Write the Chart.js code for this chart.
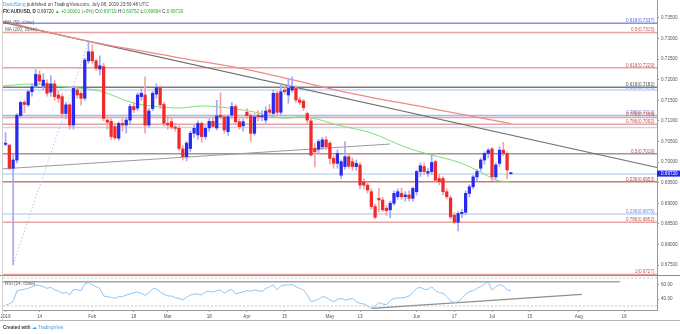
<!DOCTYPE html>
<html><head><meta charset="utf-8">
<script src="https://cdn.jsdelivr.net/npm/chart.js@4.4.1/dist/chart.umd.min.js"></script>
<style>
html,body{margin:0;padding:0;background:#fff;}
#wrap{position:relative;width:680px;height:334px;overflow:hidden;font-family:"Liberation Sans",Arial,sans-serif;}
canvas{position:absolute;left:0;}
#c1{top:0;}
#c2{top:276px;}
.t{position:absolute;white-space:nowrap;font-size:4.6px;line-height:5px;color:#444;}
.ln{position:absolute;}
.g{color:#2eab2e;}
.b{color:#4a9be0;}
</style></head><body>
<div id="wrap">
<canvas id="c1" width="680" height="276"></canvas>
<canvas id="c2" width="680" height="46"></canvas>
<div class="ln" style="left:0;top:275px;width:680px;height:1px;background:#8a8a8a"></div>
<div class="ln" style="left:2px;top:0;width:1px;height:320px;background:#cfcfcf"></div>
<div class="ln" style="left:0;top:320px;width:680px;height:1px;background:#b5b5b5"></div>
<div class="t" style="left:3px;top:1.5px"><span class="b">DavidSong</span> published on TradingView.com, July 08, 2019 23:59:48 UTC</div>
<div class="t" style="left:3px;top:8.5px;color:#333"><b>FX:AUDUSD, D</b> 0.69720 <span class="g">▲ +0.00001 (+0%)</span> O:<span class="g">0.69719</span> H:<span class="g">0.69752</span> L:<span class="g">0.69694</span> C:<span class="g">0.69720</span></div>
<div class="t" style="left:5px;top:20px;color:#666">MA (50, close)</div>
<div class="t" style="left:5px;top:26.5px;color:#666">MA (200, close)</div>
<div class="t" style="left:5px;top:281px;color:#666">RSI (14, close)</div>
<div class="t" style="left:3px;top:324.5px;color:#444;font-weight:bold">Created with <span class="b" style="font-weight:normal">☁ TradingView</span></div>
</div>
<script>
// ---- axis ranges (candle index: 0 = Dec 31 2018, 1 = Jan 1 2019, ...) ----
const xMin = 0.32, xMax = 173.75;
const yMin = 0.672328, yMax = 0.739372;
const rsiMin = 24.286, rsiMax = 72.857;
const priceTicks = [0.675,0.68,0.685,0.69,0.695,0.70,0.705,0.71,0.715,0.72,0.725,0.73,0.735];
const rsiTicks = [40, 60];
const xTickIdx = [1,10,24,35,44,55,65,75,87,95,110,120,130,140,153,165];
const xTickLabels = ['2019','14','Feb','18','Mar','18','Apr','15','May','13','Jun','17','Jul','15','Aug','19'];

// ---- daily candles, Jan 1 2019 .. Jul 8 2019 ----
const firstIdx = 1;
const opens = [0.7043,0.7041,0.6985,0.7005,0.7113,0.7145,0.7139,0.7171,0.7185,0.7212,0.7185,0.7191,0.7170,0.7190,0.7163,0.7159,0.7118,0.7139,0.7090,0.7175,0.7167,0.7155,0.7246,0.7268,0.7246,0.7226,0.7232,0.7102,0.7099,0.7086,0.7058,0.7094,0.7090,0.7102,0.7135,0.7131,0.7159,0.7163,0.7090,0.7130,0.7165,0.7181,0.7140,0.7094,0.7098,0.7085,0.7082,0.7032,0.7013,0.7033,0.7070,0.7066,0.7094,0.7062,0.7083,0.7099,0.7083,0.7114,0.7110,0.7074,0.7114,0.7135,0.7098,0.7088,0.7121,0.7113,0.7070,0.7114,0.7110,0.7102,0.7127,0.7118,0.7167,0.7121,0.7175,0.7163,0.7175,0.7179,0.7151,0.7148,0.7118,0.7100,0.7033,0.7031,0.7037,0.7054,0.7046,0.7009,0.6997,0.6968,0.6989,0.7013,0.7001,0.6989,0.6993,0.6952,0.6944,0.6928,0.6892,0.6912,0.6908,0.6888,0.6884,0.6900,0.6916,0.6924,0.6916,0.6920,0.6912,0.6928,0.6977,0.6989,0.6973,0.6977,0.7001,0.6960,0.6960,0.6928,0.6913,0.6871,0.6854,0.6875,0.6878,0.6924,0.6940,0.6964,0.6985,0.7005,0.7021,0.7032,0.6964,0.6997,0.7029,0.7021,0.69719];
const highs = [0.7072,0.7043,0.7020,0.7118,0.7148,0.7150,0.7175,0.7190,0.7225,0.7222,0.7215,0.7200,0.7210,0.7198,0.7172,0.7165,0.7145,0.7142,0.7183,0.7182,0.7172,0.7252,0.7293,0.7285,0.7250,0.7258,0.7240,0.7110,0.7105,0.7095,0.7098,0.7105,0.7108,0.7140,0.7145,0.7168,0.7178,0.7207,0.7130,0.7172,0.7190,0.7185,0.7145,0.7112,0.7108,0.7095,0.7088,0.7040,0.7050,0.7075,0.7090,0.7100,0.7098,0.7088,0.7105,0.7110,0.7150,0.7168,0.7115,0.7115,0.7145,0.7140,0.7105,0.7105,0.7130,0.7118,0.7118,0.7125,0.7125,0.7135,0.7140,0.7175,0.7172,0.7191,0.7185,0.7203,0.7207,0.7185,0.7158,0.7152,0.7122,0.7105,0.7045,0.7055,0.7060,0.7062,0.7050,0.7015,0.7030,0.7005,0.7050,0.7020,0.7010,0.7005,0.6998,0.6960,0.6950,0.6935,0.6898,0.6936,0.6915,0.6895,0.6905,0.6930,0.6935,0.6937,0.6928,0.6930,0.6940,0.6980,0.6998,0.6998,0.6985,0.7021,0.7005,0.6970,0.6965,0.6935,0.6918,0.6877,0.6880,0.6885,0.6930,0.6945,0.6968,0.6982,0.7010,0.7025,0.7033,0.7035,0.6998,0.7037,0.7048,0.7025,0.69752];
const lows = [0.7040,0.6982,0.6750,0.6998,0.7110,0.7120,0.7135,0.7160,0.7180,0.7190,0.7175,0.7160,0.7160,0.7150,0.7145,0.7110,0.7105,0.7080,0.7080,0.7155,0.7138,0.7150,0.7240,0.7240,0.7222,0.7212,0.7100,0.7080,0.7055,0.7055,0.7053,0.7075,0.7070,0.7090,0.7120,0.7125,0.7150,0.7070,0.7085,0.7125,0.7155,0.7130,0.7088,0.7080,0.7080,0.7075,0.7028,0.7005,0.7003,0.7025,0.7060,0.7055,0.7048,0.7055,0.7075,0.7085,0.7078,0.7105,0.7070,0.7065,0.7105,0.7090,0.7080,0.7075,0.7105,0.7050,0.7065,0.7100,0.7100,0.7095,0.7115,0.7112,0.7115,0.7115,0.7165,0.7143,0.7170,0.7145,0.7140,0.7125,0.7095,0.7015,0.6988,0.7020,0.7030,0.7030,0.6995,0.6985,0.6985,0.6960,0.6982,0.6985,0.6980,0.6980,0.6935,0.6935,0.6925,0.6885,0.6862,0.6879,0.6880,0.6870,0.6865,0.6895,0.6910,0.6910,0.6905,0.6905,0.6905,0.6920,0.6965,0.6970,0.6965,0.6970,0.6950,0.6945,0.6920,0.6910,0.6862,0.6850,0.6833,0.6865,0.6872,0.6915,0.6935,0.6955,0.6978,0.6995,0.7010,0.6955,0.6958,0.6990,0.7015,0.6960,0.69694];
const closes = [0.7046,0.6985,0.7005,0.7114,0.7145,0.7140,0.7171,0.7183,0.7213,0.7197,0.7199,0.7167,0.7190,0.7159,0.7155,0.7118,0.7139,0.7090,0.7179,0.7163,0.7155,0.7248,0.7268,0.7246,0.7228,0.7234,0.7106,0.7097,0.7062,0.7059,0.7094,0.7090,0.7102,0.7135,0.7127,0.7163,0.7167,0.7090,0.7124,0.7167,0.7181,0.7139,0.7094,0.7090,0.7085,0.7082,0.7033,0.7013,0.7046,0.7070,0.7082,0.7094,0.7062,0.7082,0.7099,0.7087,0.7112,0.7110,0.7078,0.7110,0.7135,0.7098,0.7086,0.7098,0.7113,0.7070,0.7110,0.7110,0.7113,0.7124,0.7121,0.7167,0.7121,0.7171,0.7171,0.7179,0.7183,0.7151,0.7145,0.7132,0.7102,0.7017,0.7025,0.7050,0.7054,0.7037,0.7009,0.6997,0.7021,0.7001,0.7013,0.6990,0.6989,0.6997,0.6944,0.6944,0.6932,0.6892,0.6866,0.6908,0.6884,0.6882,0.6900,0.6924,0.6928,0.6916,0.6920,0.6912,0.6936,0.6977,0.6991,0.6977,0.6977,0.6999,0.6956,0.6952,0.6928,0.6916,0.6867,0.6854,0.6875,0.6878,0.6924,0.6940,0.6964,0.6977,0.7005,0.7021,0.7029,0.6964,0.6993,0.7029,0.7021,0.6981,0.69720];
const lastClose = 0.69720;

// ---- moving averages, read at sample dates ----
const ma50Idx = [0,8,17,26,35,46,53,58,67,74,81,89,98,107,114,121,127,131,135];
const ma50Val = [0.71848,0.71896,0.71823,0.71726,0.71434,0.71313,0.71362,0.71337,0.71216,0.71070,0.71094,0.70900,0.70706,0.70365,0.70171,0.70001,0.69758,0.69564,0.69515];
const ma200Idx = [0,22,46,67,91,114,135];
const ma200Val = [0.73427,0.72958,0.72552,0.72212,0.71702,0.71300,0.70936];

// ---- drawn trendlines (index, price) ----
const upperTrendIdx = [0.32, 173.75], upperTrendVal = [0.73395, 0.69868];
const lowerTrendIdx = [0.32, 102.9], lowerTrendVal = [0.69836, 0.70438];
const fibAnchorIdx = [3, 23], fibAnchorVal = [0.6750, 0.7293];

// ---- fibonacci levels ----
const fibLevels = [0.7337,0.7315,0.7229,0.7182,0.7175,0.7113,0.7108,0.7092,0.7084,0.7020,0.6971,0.6952,0.6874,0.6854,0.6727];
const fibLabels = ['0.618(0.7337)','0.5(0.7315)','0.618(0.7229)','0.618(0.7182)','0.618(0.7176)','0.786(0.7113)','0.786(0.7108)','0.786(0.7092)','','0.5(0.7019)','','0.236(0.6953)','0.236(0.6875)','0.786(0.6852)','1(0.6727)'];
const fibColors = ['#8290f0','#e8a3a3','#e8a3a3','#7a7a7a','#c3d5f5','#a9b4f3','#e8a3a3','#e8a3a3','#c3d5f5','#a8909a','#c3d5f5','#cf7777','#c3d5f5','#e8a3a3','#e8a3a3'];
const fibTextColors = ['#5a6ae0','#c05a5a','#c05a5a','#555555','#7fa0e0','#6a78e0','#c05a5a','#c05a5a','#7fa0e0','#9a5a6a','#7fa0e0','#b05050','#6a8ae0','#c05a5a','#c05a5a'];

const rsiVal = [31.4,33,36.2,51.4,52.9,53.8,55.2,57.6,60,59.5,57.6,55.2,56.7,52.9,51.4,48.1,50,45.7,53.8,52.9,51.9,61.4,63.3,60,57.6,55.2,44.3,43.3,42.4,41,43.3,43.3,45.7,47.1,49,50,48.1,45.2,49,54.3,54.8,50,47.1,44.3,44.3,41.9,41,38.6,42.4,45.7,47.1,47.1,45.7,50,51,50,51.9,52.9,48.1,51.9,53.8,47.1,49,50,51.9,51,52.9,51.9,50.5,54.8,57.6,60,52.9,58.6,60,60,60.5,57.6,55.2,52.9,45.7,36.2,37.6,39.5,43.3,42.4,38.6,36.2,39.5,41,38.6,39.5,41,36.2,33.8,32.9,30,26.7,30,34.8,32.9,31.9,37.6,41,41.4,41.4,42.4,44.3,49,55.2,56.7,53.8,53.8,57.6,51.9,49,48.1,43.3,37.6,34.8,36.2,41,47.1,50.5,51.9,55.2,57.6,61.4,63.8,52.9,57.6,60.5,58.6,52.9,51.9];
const rsiLevels = [70, 30];
const rsiFlatIdx = [0.32, 163.9], rsiFlatVal = [64.7, 64.7];
const rsiRiseIdx = [98.1, 153.8], rsiRiseVal = [26.7, 46.7];

// ---- build datasets ----
const FONT = 'Liberation Sans';
const pts = (xs, ys) => xs.map((x, i) => ({x, y: ys[i]}));
const candleX = opens.map((_, i) => firstIdx + i);
const isUp = opens.map((o, i) => closes[i] >= o);
const bodyColors = isUp.map(u => u ? '#2a2aee' : '#ee2a2a');
const wickColors = isUp.map(u => u ? '#a3aaf4' : '#f2a3a3');

const mainSets = [];
fibLevels.forEach((lv, i) => mainSets.push({
  type: 'line', data: pts([xMin, xMax], [lv, lv]), borderColor: fibColors[i],
  borderWidth: 1.5, pointRadius: 0, order: 20
}));
mainSets.push({type:'line', data: pts(upperTrendIdx, upperTrendVal), borderColor:'#6e6e6e', borderWidth:1.2, pointRadius:0, order:9});
mainSets.push({type:'line', data: pts(lowerTrendIdx, lowerTrendVal), borderColor:'#9a9a9a', borderWidth:1, pointRadius:0, order:9});
mainSets.push({type:'line', data: pts(fibAnchorIdx, fibAnchorVal), borderColor:'#a9c8f0', borderWidth:1, borderDash:[1.5,2], pointRadius:0, order:9});
mainSets.push({type:'line', data: pts(ma200Idx, ma200Val), borderColor:'#f08a8a', borderWidth:1.3, pointRadius:0, tension:0.35, order:8});
mainSets.push({type:'line', data: pts(ma50Idx, ma50Val), borderColor:'#78e078', borderWidth:1, pointRadius:0, tension:0.35, order:8});
mainSets.push({type:'bar', data: candleX.map((x, i) => ({x, y:[lows[i], highs[i]]})), backgroundColor: wickColors, barThickness: 1, grouped:false, order:3});
mainSets.push({type:'bar', data: candleX.map((x, i) => ({x, y:[opens[i], closes[i]]})), backgroundColor: bodyColors, barThickness: 2.6, minBarLength: 1, grouped:false, order:1});

const overlayPlugin = {
  id: 'overlay',
  afterDatasetsDraw(chart) {
    const {ctx, chartArea, scales:{y}} = chart;
    ctx.save();
    ctx.font = '4.6px "' + FONT + '"';
    ctx.textAlign = 'right'; ctx.textBaseline = 'alphabetic';
    fibLevels.forEach((lv, i) => {
      if (!fibLabels[i]) return;
      ctx.fillStyle = fibTextColors[i];
      ctx.fillText(fibLabels[i], chartArea.right - 2.5, y.getPixelForValue(lv) - 1.2);
    });
    const py = y.getPixelForValue(lastClose);
    ctx.fillStyle = '#2525ee';
    ctx.fillRect(chartArea.right, py - 3, 23, 6);
    ctx.fillStyle = '#ffffff'; ctx.textAlign = 'left'; ctx.textBaseline = 'middle';
    ctx.fillText(lastClose.toFixed(5), chartArea.right + 4, py + 0.3);
    ctx.restore();
  }
};

Chart.defaults.font.family = FONT;
new Chart(document.getElementById('c1'), {
  type: 'bar',
  data: {datasets: mainSets},
  options: {
    responsive: false, animation: false, events: [],
    layout: {padding: {left: 3, top: 0, right: 0, bottom: 0}},
    plugins: {legend: {display: false}, tooltip: {enabled: false}},
    scales: {
      x: {type: 'linear', min: xMin, max: xMax, display: false, offset: false},
      y: {
        type: 'linear', position: 'right', min: yMin, max: yMax,
        afterBuildTicks(s) { s.ticks = priceTicks.map(v => ({value: v})); },
        afterFit(s) { s.width = 23; s.paddingTop = 0; s.paddingBottom = 0; },
        ticks: {font: {size: 4.6, family: FONT}, color: '#555', padding: 2, callback: v => Number(v).toFixed(5)},
        grid: {drawOnChartArea: false, drawTicks: true, tickLength: 2, color: '#999'},
        border: {display: true, color: '#999', width: 1}
      }
    }
  },
  plugins: [overlayPlugin]
});

const rsiSets = [];
rsiLevels.forEach(lv => rsiSets.push({type:'line', data: pts([xMin, xMax], [lv, lv]), borderColor:'#c8c8c8', borderWidth:1, borderDash:[2,2], pointRadius:0, order:10}));
rsiSets.push({type:'line', data: pts(rsiFlatIdx, rsiFlatVal), borderColor:'#a5a5a5', borderWidth:1.5, pointRadius:0, order:5});
rsiSets.push({type:'line', data: pts(rsiRiseIdx, rsiRiseVal), borderColor:'#8f8f8f', borderWidth:1.3, pointRadius:0, order:5});
rsiSets.push({type:'line', data: rsiVal.map((v, i) => ({x: firstIdx + i, y: v})), borderColor:'#8ec5f5', borderWidth:1, pointRadius:0, order:1});

new Chart(document.getElementById('c2'), {
  type: 'line',
  data: {datasets: rsiSets},
  options: {
    responsive: false, animation: false, events: [],
    layout: {padding: {left: 3, top: 0, right: 0, bottom: 0}},
    plugins: {legend: {display: false}, tooltip: {enabled: false}},
    scales: {
      x: {
        type: 'linear', min: xMin, max: xMax, offset: false,
        afterBuildTicks(s) { s.ticks = xTickIdx.map(v => ({value: v})); },
        afterFit(s) { s.height = 12; s.paddingLeft = 0; s.paddingRight = 0; },
        ticks: {font: {size: 4.6, family: FONT}, color: '#555', padding: 1.5, maxRotation: 0, autoSkip: false,
          callback: v => { const k = xTickIdx.indexOf(v); return k >= 0 ? xTickLabels[k] : ''; }},
        grid: {drawOnChartArea: false, drawTicks: true, tickLength: 2, color: '#aaa'},
        border: {display: true, color: '#999', width: 1}
      },
      y: {
        type: 'linear', position: 'right', min: rsiMin, max: rsiMax,
        afterBuildTicks(s) { s.ticks = rsiTicks.map(v => ({value: v})); },
        afterFit(s) { s.width = 23; s.paddingTop = 0; s.paddingBottom = 0; },
        ticks: {font: {size: 4.6, family: FONT}, color: '#555', padding: 2, callback: v => Number(v).toFixed(2)},
        grid: {drawOnChartArea: false, drawTicks: true, tickLength: 2, color: '#999'},
        border: {display: true, color: '#999', width: 1}
      }
    }
  }
});
</script>
</body></html>
